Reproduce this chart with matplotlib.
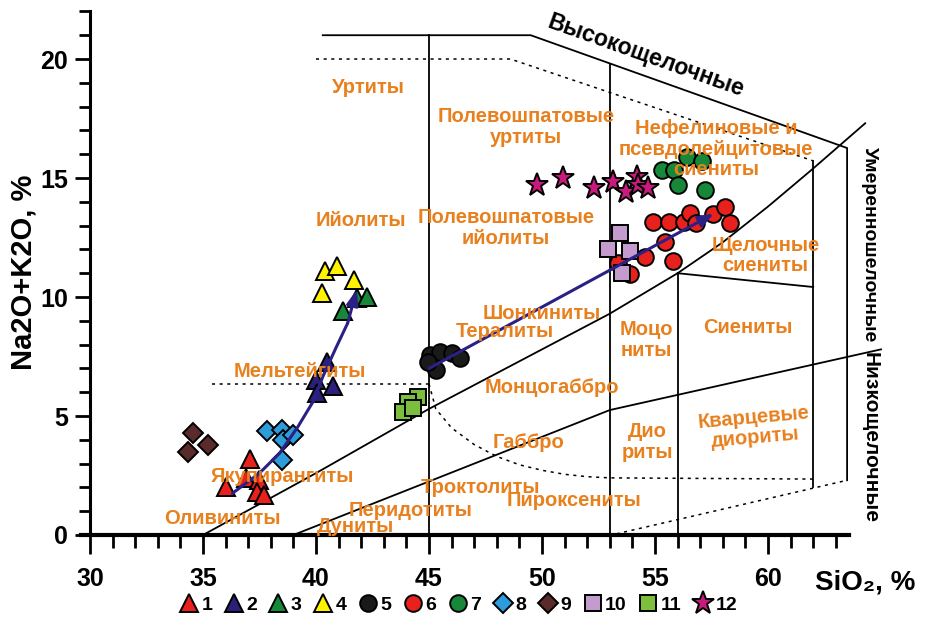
import matplotlib
matplotlib.use("Agg")
import matplotlib.pyplot as plt
from matplotlib.lines import Line2D

plt.rcParams['font.family'] = ['Liberation Sans', 'DejaVu Sans']

# ---- sample groups: SiO2 (x) and Na2O+K2O (y), wt% ----
g1_x = [36.0, 37.1, 36.9, 37.5, 37.4, 37.7]
g1_y = [2.0, 3.2, 2.4, 2.3, 1.8, 1.7]
g2_x = [40.5, 40.0, 40.75, 40.05]
g2_y = [7.25, 6.5, 6.25, 5.95]
g3_x = [41.2, 41.8, 42.25]
g3_y = [9.4, 9.95, 10.0]
g4_x = [40.4, 40.95, 40.25, 41.7]
g4_y = [11.1, 11.3, 10.15, 10.7]
g5_x = [45.05, 45.5, 46.0, 46.35, 45.3, 44.95]
g5_y = [7.55, 7.7, 7.65, 7.45, 6.95, 7.25]
g6_x = [54.9, 55.6, 56.3, 56.55, 56.8, 57.55, 58.1, 58.3, 55.45, 54.55, 55.8, 53.35, 53.9]
g6_y = [13.15, 13.15, 13.15, 13.55, 13.1, 13.5, 13.8, 13.1, 12.3, 11.7, 11.5, 11.45, 10.95]
g7_x = [55.3, 55.85, 56.4, 57.1, 56.0, 57.2]
g7_y = [15.35, 15.35, 15.9, 15.7, 14.7, 14.5]
g8_x = [37.85, 38.5, 38.55, 39.0, 38.5]
g8_y = [4.35, 4.4, 4.0, 4.2, 3.15]
g9_x = [34.55, 35.2, 34.35]
g9_y = [4.3, 3.8, 3.5]
g10_x = [53.45, 52.9, 53.9, 53.55]
g10_y = [12.7, 12.0, 11.95, 11.0]
g11_x = [44.5, 44.05, 43.85, 44.3]
g11_y = [5.8, 5.6, 5.15, 5.35]
g12_x = [49.8, 50.95, 52.3, 53.15, 53.7, 54.2, 54.25, 54.7]
g12_y = [14.7, 15.0, 14.6, 14.85, 14.4, 15.05, 14.7, 14.6]

legend_labels = ['1', '2', '3', '4', '5', '6', '7', '8', '9', '10', '11', '12']

# ---- trend arrows ----
trend1_x = [36.3, 37.5, 38.4, 39.2, 39.9, 40.3, 40.9, 41.4, 41.8]
trend1_y = [1.75, 2.6, 3.45, 4.55, 5.65, 6.65, 7.9, 8.9, 10.3]
trend2_x = [45.0, 57.6]
trend2_y = [7.0, 13.5]

# ---- classification field boundaries ----
top_x = [40.3, 49.5, 63.5, 63.5]
top_y = [21.0, 21.0, 16.26, 2.3]
alk_x = [35.0, 40.0, 45.0, 50.0, 53.0, 56.0, 58.0, 60.0, 62.0, 64.3]
alk_y = [0.0, 2.6, 5.3, 7.8, 9.3, 11.0, 12.3, 13.8, 15.4, 17.3]
sub_x = [39.0, 53.0, 65.0]
sub_y = [0.0, 5.25, 7.8]
sy_x = [56.0, 62.0]
sy_y = [11.0, 10.42]
verticals = [(45.0, 0.0, 21.0), (53.0, 0.0, 19.8), (56.0, 0.0, 11.0), (62.0, 2.0, 15.72)]
dot_top_x = [40.0, 48.6, 62.0]
dot_top_y = [20.0, 20.0, 15.72]
dot_mid_x = [35.4, 45.0]
dot_mid_y = [6.35, 6.35]
dot_arc_x = [45.0, 45.3, 46.0, 47.0, 48.0, 49.0, 50.0, 51.0, 52.0, 53.0, 62.0]
dot_arc_y = [6.35, 5.3, 4.5, 3.8, 3.3, 2.95, 2.72, 2.55, 2.45, 2.4, 2.35]
dot_bot_x = [53.3, 63.5]
dot_bot_y = [0.05, 2.3]

field_labels = [
    ("Уртиты", 42.3, 18.8, 0),
    ("Полевошпатовые\nуртиты", 49.3, 17.15, 0),
    ("Нефелиновые и\nпсевдолейцитовые\nсиениты", 57.7, 16.2, 0),
    ("Ийолиты", 42.0, 13.2, 0),
    ("Полевошпатовые\nийолиты", 48.4, 12.9, 0),
    ("Щелочные\nсиениты", 59.9, 11.75, 0),
    ("Шонкиниты", 50.0, 9.3, 0),
    ("Тералиты", 48.35, 8.55, 0),
    ("Моцо\nниты", 54.6, 8.2, 0),
    ("Сиениты", 59.1, 8.7, 0),
    ("Мельтейгиты", 39.3, 6.85, 0),
    ("Монцогаббро", 50.45, 6.2, 0),
    ("Кварцевые\nдиориты", 59.4, 4.5, 5),
    ("Габбро", 49.4, 3.9, 0),
    ("Дио\nриты", 54.65, 3.9, 0),
    ("Якупирангиты", 38.5, 2.44, 0),
    ("Троктолиты", 47.3, 2.0, 0),
    ("Пироксениты", 51.4, 1.47, 0),
    ("Перидотиты", 44.2, 1.05, 0),
    ("Оливиниты", 35.85, 0.71, 0),
    ("Дуниты", 41.75, 0.36, 0),
]

series_styles = [
    (g1_x, g1_y, '^', '#E8211D', 13),
    (g2_x, g2_y, '^', '#2A2079', 13),
    (g3_x, g3_y, '^', '#17883A', 13),
    (g4_x, g4_y, '^', '#FFF200', 13),
    (g5_x, g5_y, 'o', '#1A1A1A', 12),
    (g6_x, g6_y, 'o', '#E8211D', 12),
    (g7_x, g7_y, 'o', '#17883A', 12),
    (g8_x, g8_y, 'D', '#2D9CDB', 10),
    (g9_x, g9_y, 'D', '#5B2A2A', 10),
    (g10_x, g10_y, 's', '#C49BCF', 12),
    (g11_x, g11_y, 's', '#7CBF3F', 12),
    (g12_x, g12_y, '*', '#C8197D', 17),
]

orange = '#E8801E'
navy = '#2B2185'

fig = plt.figure(figsize=(9.28, 6.22), dpi=100)
ax = fig.add_axes([90 / 928, 87 / 622, 836.2 / 928, 533.1 / 622])
ax.set_xlim(30, 67)
ax.set_ylim(0, 22.4)

# boundaries
lk = dict(color='black', lw=1.3, zorder=2, clip_on=False)
ax.plot(top_x, top_y, **lk)
ax.plot(alk_x, alk_y, **lk)
ax.plot(sub_x, sub_y, **lk)
ax.plot(sy_x, sy_y, **lk)
for vx, y0, y1 in verticals:
    ax.plot([vx, vx], [y0, y1], **lk)
dk = dict(color='black', lw=1.1, ls=(0, (2, 3)), zorder=2, clip_on=False)
ax.plot(dot_top_x, dot_top_y, **dk)
ax.plot(dot_mid_x, dot_mid_y, **dk)
ax.plot(dot_arc_x, dot_arc_y, **dk)
ax.plot(dot_bot_x, dot_bot_y, **dk)

# samples
handles = []
for (xs, ys, m, c, ms), lab in zip(series_styles, legend_labels):
    ax.plot(xs, ys, ls='none', marker=m, ms=ms, mfc=c, mec='black', mew=1.4, zorder=4, clip_on=False)
    handles.append(Line2D([], [], ls='none', marker=m, ms=ms, mfc=c, mec='black', mew=1.4, label=lab))

# trends
ax.plot(trend1_x[:-1], trend1_y[:-1], color=navy, lw=2.2, zorder=5, solid_capstyle='round')
ax.annotate('', xy=(trend1_x[-1], trend1_y[-1]), xytext=(trend1_x[-2], trend1_y[-2]),
            arrowprops=dict(arrowstyle='-|>,head_length=0.9,head_width=0.35', color=navy, lw=2.2,
                            shrinkA=0, shrinkB=0), zorder=5)
ax.annotate('', xy=(trend2_x[-1], trend2_y[-1]), xytext=(trend2_x[0], trend2_y[0]),
            arrowprops=dict(arrowstyle='-|>,head_length=0.9,head_width=0.35', color=navy, lw=2.2,
                            shrinkA=0, shrinkB=0), zorder=5)

# field names
for txt, x, y, rot in field_labels:
    ax.text(x, y, txt, color=orange, fontsize=14.5, fontweight='bold', ha='center', va='center',
            rotation=rot, linespacing=1.1, zorder=6)

ax.text(54.6, 20.15, "Высокощелочные", fontsize=16.5, fontweight='bold', rotation=-19.6,
        ha='center', va='center', zorder=6)
ax.text(64.5, 12.2, "Умеренношелочные", fontsize=14, fontweight='bold', rotation=-90,
        ha='center', va='center', zorder=6, clip_on=False)
ax.text(64.5, 4.1, "Низкощелочные", fontsize=15, fontweight='bold', rotation=-90,
        ha='center', va='center', zorder=6, clip_on=False)

# axes
for s in ['top', 'right']:
    ax.spines[s].set_visible(False)
ax.spines['left'].set_bounds(0, 22)
ax.spines['bottom'].set_bounds(29.6, 63.6)
ax.spines['left'].set_linewidth(2.2)
ax.spines['bottom'].set_linewidth(3)
ax.set_xticks([30, 35, 40, 45, 50, 55, 60])
ax.set_xticks(range(30, 64), minor=True)
ax.set_yticks([0, 5, 10, 15, 20])
ax.set_yticks(range(0, 23), minor=True)
ax.tick_params(which='major', direction='out', length=14, width=2, labelsize=18)
ax.tick_params(which='minor', direction='out', length=9, width=2)
ax.tick_params(axis='x', which='major', pad=9)
ax.tick_params(axis='y', which='major', length=11, pad=5)
ax.tick_params(axis='y', which='minor', length=8)
for lbl in ax.get_xticklabels() + ax.get_yticklabels():
    lbl.set_fontweight('bold')

fig.text(24 / 928, 1 - 272 / 622, "Na2O+K2O, %", rotation=90, fontsize=21, fontweight='bold',
         ha='center', va='center')
fig.text(865 / 928, 1 - 583 / 622, "SiO₂, %", fontsize=20, fontweight='bold',
         ha='center', va='center')

fig.legend(handles=handles, loc='center', bbox_to_anchor=(458 / 928, 1 - 605 / 622), ncol=12,
           frameon=False, handletextpad=0.15, columnspacing=0.6, handlelength=1.0,
           prop=dict(size=14, weight='bold'), borderaxespad=0)

fig.savefig('out.png', dpi=100)
